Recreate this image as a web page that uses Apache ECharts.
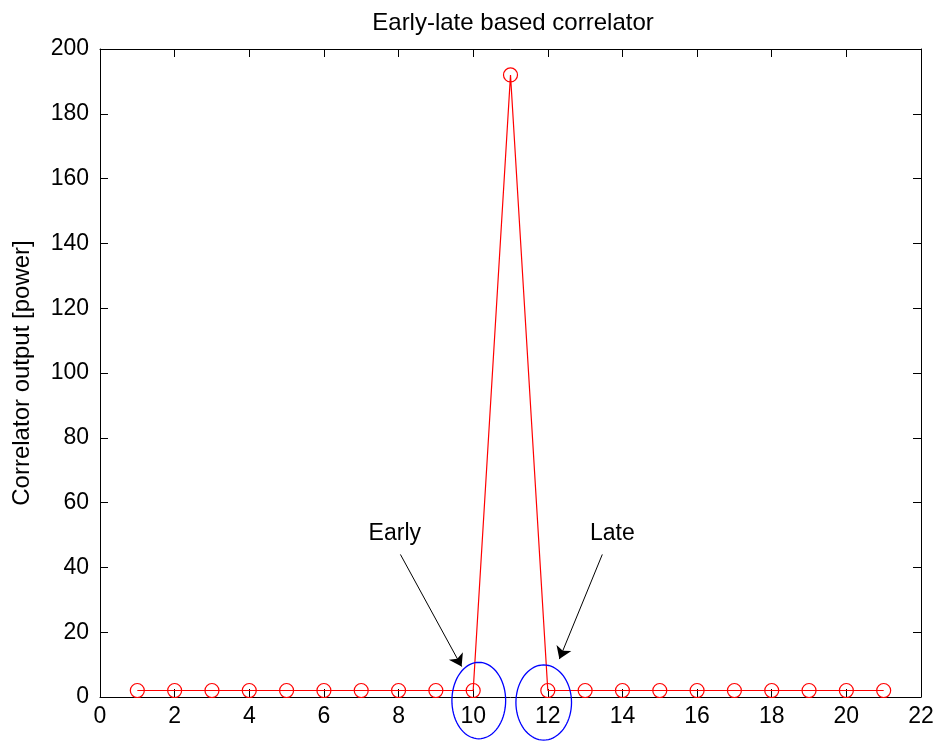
<!DOCTYPE html>
<html>
<head>
<meta charset="utf-8">
<script src="https://cdn.jsdelivr.net/npm/echarts@6/dist/echarts.min.js"></script>
<style>html,body{margin:0;padding:0;background:#fff}#c{width:937px;height:742px}#err{position:absolute;left:120px;top:80px;color:#c00;font:12px monospace}</style>
</head>
<body>
<div id="c"></div>
<div id="err"></div>
<script>
// Data
var lagIndex = [1,2,3,4,5,6,7,8,9,10,11,12,13,14,15,16,17,18,19,20,21];
var corrPower = [2,2,2,2,2,2,2,2,2,2,192,2,2,2,2,2,2,2,2,2,2];
var xTicks = [0,2,4,6,8,10,12,14,16,18,20,22];
var yTicks = [0,20,40,60,80,100,120,140,160,180,200];
// annotations (data coordinates): ellipse [cx, cy, rx, ry]
var ellipseMarks = [[10.15,-1.1,0.72,11.8],[11.89,-1.7,0.745,11.6]];
// arrows [fromX, fromY, toX, toY]
var arrowMarks = [[8.05,44,9.69,9.4],[13.46,44,12.31,11.7]];
var labelMarks = [[7.9,50.3,'Early'],[13.73,50.3,'Late']];

var FONT = 'Liberation Sans, Arial, sans-serif';
try {
var chart = echarts.init(document.getElementById('c'), null, {renderer:'canvas'});

function axisCommon(show){
  return {
    type:'value',
    show:true,
    axisLine:{show:true,onZero:false,lineStyle:{color:'#000',width:1}},
    axisTick:{show:true,inside:true,length:8,lineStyle:{color:'#000',width:1}},
    splitLine:{show:false},
    axisLabel:{show:show,color:'#000',fontSize:23,fontFamily:FONT}
  };
}
var xb = axisCommon(true); xb.min=0; xb.max=22; xb.interval=2; xb.position='bottom'; xb.axisLabel.margin=8;
var xt = axisCommon(false); xt.min=0; xt.max=22; xt.interval=2; xt.position='top';
var yl = axisCommon(true); yl.min=0; yl.max=200; yl.interval=20; yl.position='left'; yl.axisLabel.margin=11;
yl.name='Correlator output [power]'; yl.nameLocation='middle'; yl.nameGap=66;
yl.nameTextStyle={color:'#000',fontSize:24,fontFamily:FONT};
var yr = axisCommon(false); yr.min=0; yr.max=200; yr.interval=20; yr.position='right';

var lineData = lagIndex.map(function(x,i){return [x, corrPower[i]];});

var option = {
  animation:false,
  backgroundColor:'#fff',
  title:{text:'Early-late based correlator', left:508, top:6, textAlign:'center',
    textStyle:{color:'#000',fontSize:24,fontWeight:'normal',fontFamily:FONT}},
  grid:{left:100, top:49, right:16, bottom:45, containLabel:false},
  xAxis:[xb, xt],
  yAxis:[yl, yr],
  series:[
    {
      type:'line', data:lineData, xAxisIndex:0, yAxisIndex:0,
      symbol:'circle', symbolSize:14,
      itemStyle:{color:'rgba(0,0,0,0)', borderColor:'#ff0000', borderWidth:1.2},
      lineStyle:{color:'#ff0000', width:1.2},
      z:3,
      markLine:{
        silent:true, animation:false,
        symbol:['none','arrow'], symbolSize:12,
        lineStyle:{color:'#000', width:1, type:'solid'},
        itemStyle:{color:'#000'},
        label:{show:false},
        data: arrowMarks.map(function(a){return [{coord:[a[0],a[1]]},{coord:[a[2],a[3]]}];})
      }
    },
    {
      type:'line', xAxisIndex:1, yAxisIndex:1, silent:true, symbol:'none',
      lineStyle:{opacity:0}, data:[[0,0]]
    },
    {
      type:'custom', xAxisIndex:0, yAxisIndex:0, clip:false, silent:true, z:4,
      data: ellipseMarks,
      renderItem:function(params, api){
        var c = api.coord([api.value(0), api.value(1)]);
        var s = api.size([api.value(2), api.value(3)]);
        var pts = [];
        for (var k=0;k<=72;k++){
          var t = k/72*Math.PI*2;
          pts.push([c[0]+s[0]*Math.cos(t), c[1]+s[1]*Math.sin(t)]);
        }
        return {type:'polyline', shape:{points:pts}, style:{stroke:'#0000ff', lineWidth:1.3, fill:null}};
      }
    },
    {
      type:'scatter', xAxisIndex:0, yAxisIndex:0, silent:true, symbolSize:1,
      itemStyle:{opacity:0},
      data: labelMarks.map(function(l){return {value:[l[0],l[1]], name:l[2]};}),
      label:{show:true, position:'inside', formatter:'{b}', color:'#000', opacity:1, fontSize:23, fontFamily:FONT}
    }
  ]
};
chart.setOption(option);
} catch(e) { document.getElementById('err').textContent = String(e && e.stack || e); }
</script>
</body>
</html>
